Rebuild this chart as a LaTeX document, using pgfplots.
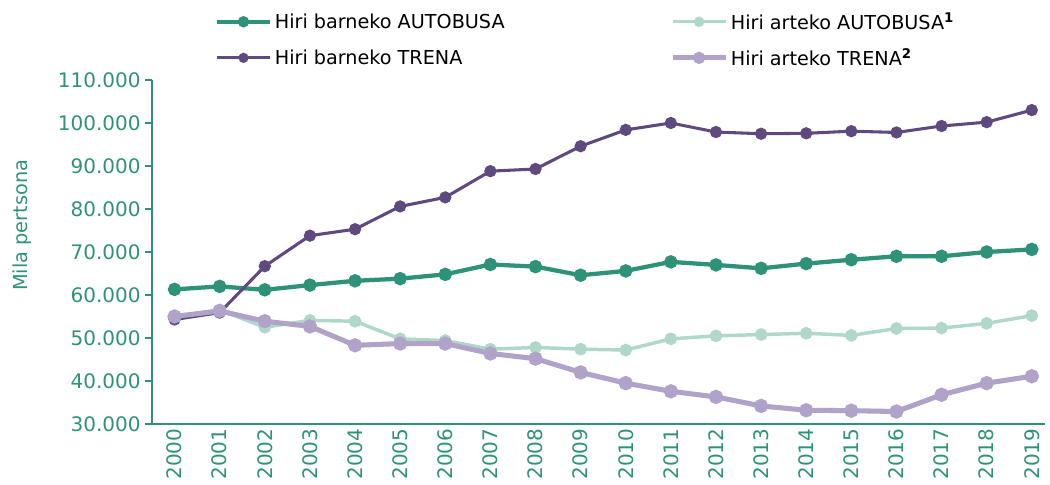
\documentclass[border=0pt]{standalone}
\usepackage{fontspec}
\setmainfont{DejaVu Sans}
\usepackage{pgfplots}
\pgfplotsset{compat=1.18}
\definecolor{cgreen}{HTML}{2E9278}
\definecolor{cpurple}{HTML}{5E4A7E}
\definecolor{clgreen}{HTML}{B0D8C8}
\definecolor{clav}{HTML}{B1A2C9}
\begin{document}
\begin{tikzpicture}
\path[use as bounding box] (0,0) rectangle (787.5pt,363.75pt);
\begin{axis}[
  at={(114pt,45.75pt)}, anchor=south west,
  scale only axis, width=670pt, height=258pt,
  xmin=1999.5, xmax=2019.3,
  ymin=30000, ymax=110000,
  scaled y ticks=false,
  ytick={30000,40000,50000,60000,70000,80000,90000,100000,110000},
  yticklabels={30.000,40.000,50.000,60.000,70.000,80.000,90.000,100.000,110.000},
  xtick={2000,2001,2002,2003,2004,2005,2006,2007,2008,2009,2010,2011,2012,2013,2014,2015,2016,2017,2018,2019},
  xticklabels={2000,2001,2002,2003,2004,2005,2006,2007,2008,2009,2010,2011,2012,2013,2014,2015,2016,2017,2018,2019},
  axis x line*=bottom, axis y line*=left,
  axis line style={cgreen, line width=1.8pt},
  x axis line style={-}, y axis line style={-},
  major tick length=5pt,
  tick style={cgreen, line width=1pt},
  xtick style={draw=none},
  ytick align=outside,
  tick label style={font=\fontsize{15}{17}\selectfont, text=cgreen},
  x tick label style={rotate=90, anchor=east},
  ylabel={Mila pertsona},
  ylabel style={font=\fontsize{14.5}{16}\selectfont, text=cgreen, at={(axis description cs:-0.1455,0.578)}, anchor=center},
  legend columns=2,
  legend cell align=left,
  legend style={draw=none, at={(0.07,1.205)}, anchor=north west, font=\fontsize{14.4}{16}\selectfont,
    /tikz/every even column/.append style={column sep=122pt}, row sep=9pt, inner sep=0pt},
  legend image code/.code={\draw[mark repeat=2,mark phase=2,mark size=2.6pt,#1] plot coordinates {(0cm,0cm)(0.7cm,0cm)(1.4cm,0cm)};},
  mark options={solid},
]
\addplot[cgreen, line width=3.2pt, mark=*, mark size=3.4pt] coordinates {
(2000,61300)(2001,62000)(2002,61200)(2003,62300)(2004,63300)(2005,63800)(2006,64800)(2007,67100)(2008,66600)(2009,64600)
(2010,65600)(2011,67700)(2012,67000)(2013,66200)(2014,67300)(2015,68200)(2016,69000)(2017,69000)(2018,70000)(2019,70600)};
\addlegendentry{Hiri barneko AUTOBUSA}
\addplot[clgreen, line width=2.6pt, mark=*, mark size=3.4pt] coordinates {
(2000,55000)(2001,56500)(2002,52500)(2003,54100)(2004,53900)(2005,49800)(2006,49400)(2007,47400)(2008,47800)(2009,47400)
(2010,47200)(2011,49800)(2012,50500)(2013,50800)(2014,51100)(2015,50600)(2016,52200)(2017,52300)(2018,53400)(2019,55200)};
\addlegendentry{Hiri arteko AUTOBUSA\textsuperscript{\textbf{1}}}
\addplot[cpurple, line width=2.3pt, mark=*, mark size=3.4pt] coordinates {
(2000,54300)(2001,55900)(2002,66700)(2003,73800)(2004,75300)(2005,80600)(2006,82700)(2007,88800)(2008,89300)(2009,94600)
(2010,98400)(2011,100000)(2012,97900)(2013,97500)(2014,97600)(2015,98100)(2016,97800)(2017,99300)(2018,100200)(2019,103000)};
\addlegendentry{Hiri barneko TRENA}
\addplot[clav, line width=3.8pt, mark=*, mark size=3.4pt] coordinates {
(2000,55000)(2001,56300)(2002,53900)(2003,52700)(2004,48300)(2005,48700)(2006,48700)(2007,46400)(2008,45200)(2009,42000)
(2010,39500)(2011,37600)(2012,36300)(2013,34200)(2014,33200)(2015,33100)(2016,32900)(2017,36800)(2018,39500)(2019,41100)};
\addlegendentry{Hiri arteko TRENA\textsuperscript{\textbf{2}}}
\end{axis}
\end{tikzpicture}
\end{document}
